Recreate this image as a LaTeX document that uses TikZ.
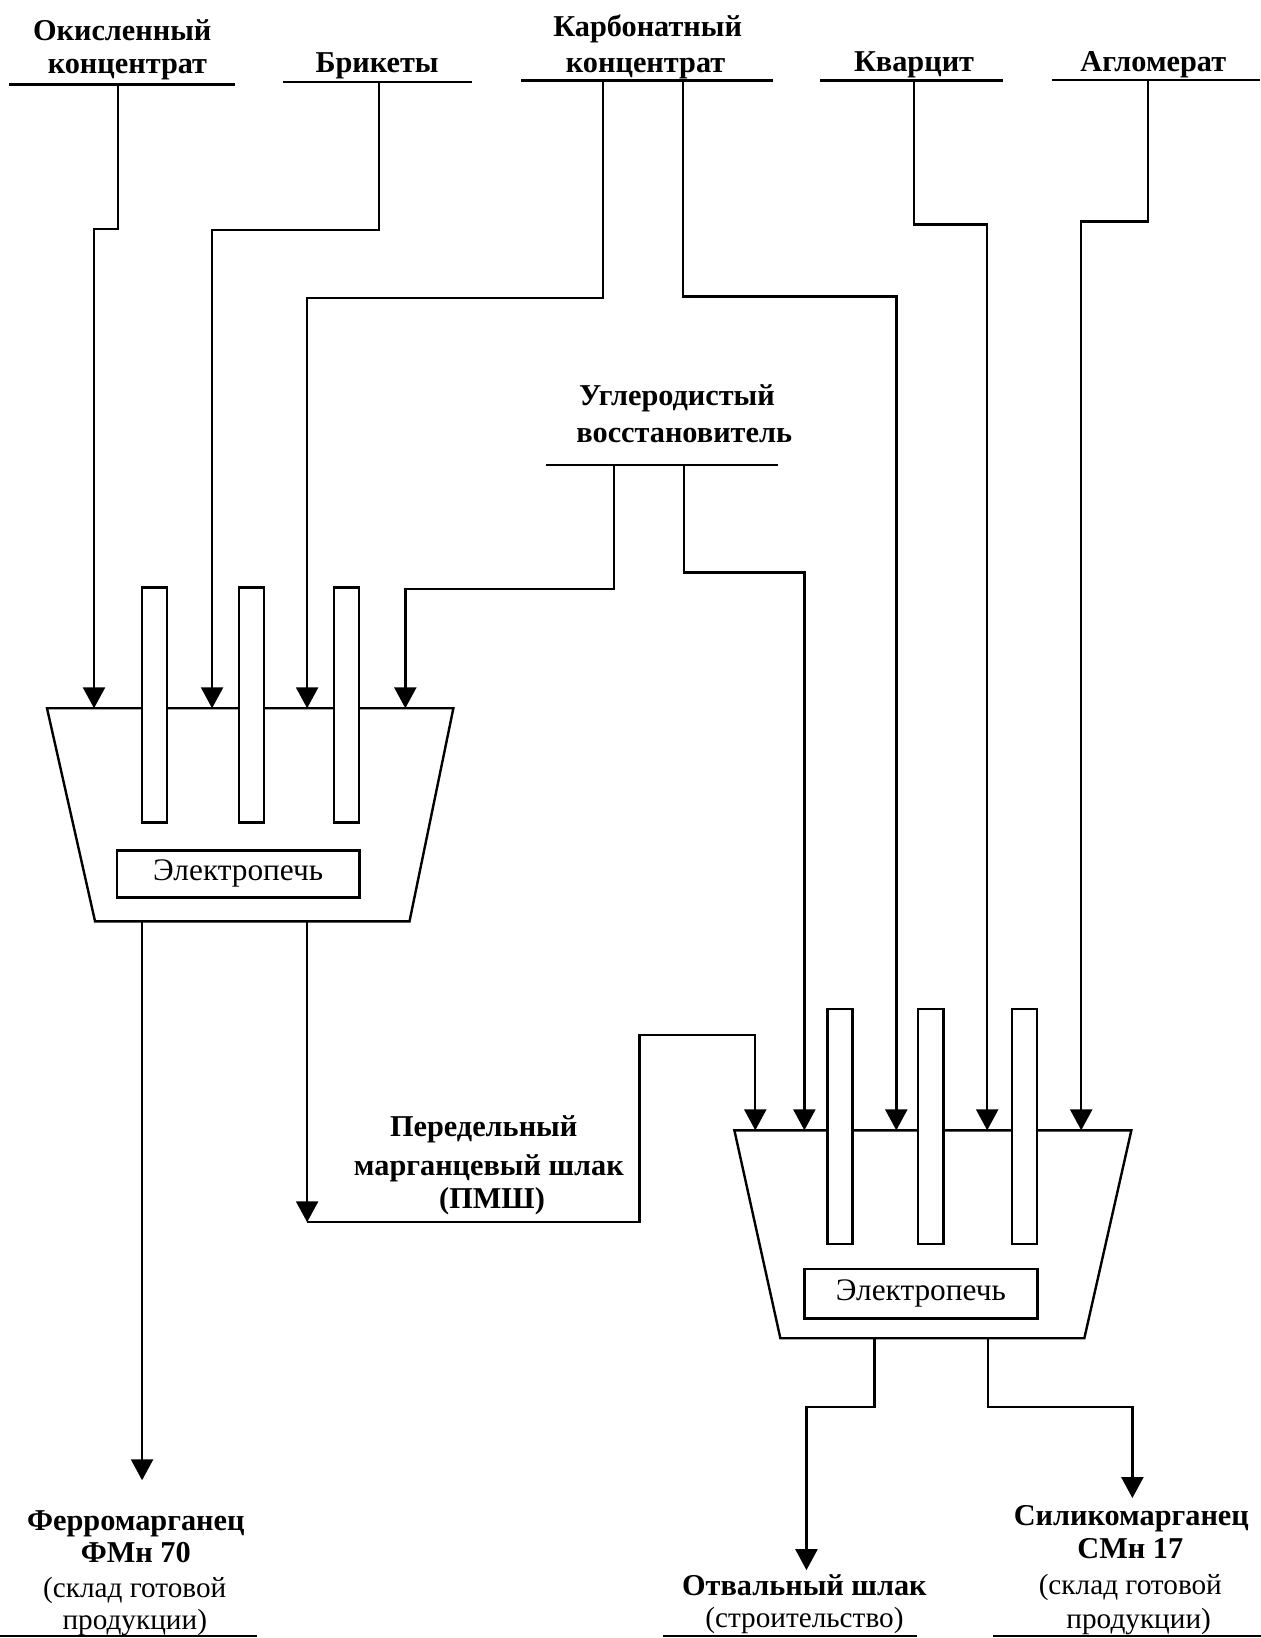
\documentclass[tikz,border=0pt]{standalone}
\usepackage{fontspec}
\setmainfont{Liberation Serif}
\usetikzlibrary{arrows.meta}
\begin{document}
\begin{tikzpicture}[x=1pt,y=-1pt,
  lbl/.style={anchor=base,inner sep=0pt,font=\fontsize{29}{33}\selectfont\bfseries},
  lblr/.style={anchor=base,inner sep=0pt,font=\fontsize{28}{32}\selectfont},
  uline/.style={line width=2.3pt},
  flow/.style={line width=2.3pt,-{Triangle[width=21pt,length=20pt]}},
  furnace/.style={line width=2.3pt,line join=miter},
  electrode/.style={draw,line width=2.3pt,fill=white,minimum width=24pt,minimum height=225pt,inner sep=0pt},
  ebox/.style={draw,line width=2.3pt,fill=white,minimum width=232pt,minimum height=45pt,inner sep=0pt,font=\fontsize{30}{34}\selectfont}
]
\fill[white] (0,0) rectangle (1207,1568);
\useasboundingbox (0,0) rectangle (1207,1568);

% ---------- source labels ----------
\node[lbl] (ok1) at (117,39) {Окисленный};
\node[lbl] (ok2) at (122,70) {концентрат};
\node[lbl] (br)  at (361,69) {Брикеты};
\node[lbl] (kb1) at (620,35) {Карбонатный};
\node[lbl] (kb2) at (618,69) {концентрат};
\node[lbl] (kv)  at (875,68) {Кварцит};
\node[lbl] (ag)  at (1104,68) {Агломерат};
\node[lbl] (ug1) at (648,388) {Углеродистый};
\node[lbl] (ug2) at (655,424) {восстановитель};

% underlines
\coordinate (okL) at (9,81);    \coordinate (okR) at (225,81);
\coordinate (brL) at (271,78.6);\coordinate (brR) at (452,78.6);
\coordinate (kbL) at (499,77);  \coordinate (kbR) at (740,77);
\coordinate (kvL) at (785,77);  \coordinate (kvR) at (960,77);
\coordinate (agL) at (1007,76.6);\coordinate (agR) at (1206,76.6);
\coordinate (ugL) at (523,445); \coordinate (ugR) at (745,445);
\draw[uline] (okL) -- (okR);
\draw[uline] (brL) -- (brR);
\draw[uline] (kbL) -- (kbR);
\draw[uline] (kvL) -- (kvR);
\draw[uline] (agL) -- (agR);
\draw[uline] (ugL) -- (ugR);

% connector starts on underlines
\coordinate (okU)  at (113,81);
\coordinate (brU)  at (363,78.6);
\coordinate (kbU1) at (577,77);
\coordinate (kbU2) at (654,77);
\coordinate (kvU)  at (875,77);
\coordinate (agU)  at (1099,76.6);
\coordinate (ugU1) at (588,445);
\coordinate (ugU2) at (655,445);

% ---------- furnace 1 ----------
\coordinate (f1tl) at (45,678);  \coordinate (f1tr) at (434,678);
\coordinate (f1br) at (392,882); \coordinate (f1bl) at (91,882);
\draw[furnace] (f1tl) -- (f1tr) -- (f1br) -- (f1bl) -- cycle;
\node[electrode] (e11) at (148,675) {};
\node[electrode] (e12) at (240.5,675) {};
\node[electrode] (e13) at (331.5,675) {};
\node[ebox] (box1) at (228,836.5) {Электропечь};

% ---------- furnace 2 ----------
\coordinate (f2tl) at (703,1082);  \coordinate (f2tr) at (1083,1082);
\coordinate (f2br) at (1038,1281); \coordinate (f2bl) at (747,1281);
\draw[furnace] (f2tl) -- (f2tr) -- (f2br) -- (f2bl) -- cycle;
\node[electrode] (e21) at (804,1078.5) {};
\node[electrode] (e22) at (891,1078.5) {};
\node[electrode] (e23) at (980.5,1078.5) {};
\node[ebox,minimum width=223pt,minimum height=47pt] (box2) at (881.5,1238.5) {Электропечь};

% arrow targets
\coordinate (f1a) at (90,678);
\coordinate (f1b) at (203,678);
\coordinate (f1c) at (294,678);
\coordinate (f1d) at (388,678);
\coordinate (f2a) at (723,1082);
\coordinate (f2b) at (770,1082);
\coordinate (f2c) at (858,1082);
\coordinate (f2d) at (945,1082);
\coordinate (f2e) at (1035,1082);
\coordinate (f1o1) at (136,882);
\coordinate (f1o2) at (294,882);
\coordinate (f2o1) at (837,1281);
\coordinate (f2o2) at (946,1281);
\coordinate (fmT) at (136,1417);
\coordinate (pmT) at (294,1170);
\coordinate (otT) at (772,1503);
\coordinate (smT) at (1084,1434);

% ---------- feed connectors ----------
\draw[flow] (okU)  -- ++(0,138)   -| (f1a);
\draw[flow] (brU)  -- ++(0,141.4) -| (f1b);
\draw[flow] (kbU1) -- ++(0,208)   -| (f1c);
\draw[flow] (kbU2) -- ++(0,207)   -| (f2c);
\draw[flow] (ugU1) -- ++(0,119)   -| (f1d);
\draw[flow] (ugU2) -- ++(0,103)   -| (f2b);
\draw[flow] (kvU)  -- ++(0,138)   -| (f2d);
\draw[flow] (agU)  -- ++(0,135.4) -| (f2e);

% ---------- outputs ----------
\draw[flow] (f1o1) -- (fmT);
\draw[flow] (f1o2) -- (pmT);
\draw[flow] (pmT) -- ++(318,0) -- ++(0,-179) -| (f2a);
\draw[flow] (f2o1) -- ++(0,66) -| (otT);
\draw[flow] (f2o2) -- ++(0,66) -| (smT);

% ---------- slag label ----------
\node[lbl] (pm1) at (463,1088) {Передельный};
\node[lbl] (pm2) at (468,1125) {марганцевый шлак};
\node[lbl] (pm3) at (471,1157) {(ПМШ)};

% ---------- product labels ----------
\node[lbl]  (fm1) at (130,1465) {Ферромарганец};
\node[lbl]  (fm2) at (130,1496) {ФМн 70};
\node[lblr] (fm3) at (129,1529) {(склад готовой};
\node[lblr] (fm4) at (129,1560) {продукции)};
\node[lbl]  (ot1) at (770,1527) {Отвальный шлак};
\node[lblr] (ot2) at (770,1558) {(строительство)};
\node[lbl]  (sm1) at (1083,1460) {Силикомарганец};
\node[lbl]  (sm2) at (1082,1492) {СМн 17};
\node[lblr] (sm3) at (1082,1526) {(склад готовой};
\node[lblr] (sm4) at (1090,1559) {продукции)};

\coordinate (bl1) at (0,1566);   \coordinate (br1) at (246,1566);
\coordinate (bl2) at (635,1566); \coordinate (br2) at (878,1566);
\coordinate (bl3) at (951,1566); \coordinate (br3) at (1207,1566);
\draw[uline] (bl1) -- (br1);
\draw[uline] (bl2) -- (br2);
\draw[uline] (bl3) -- (br3);
\end{tikzpicture}
\end{document}
